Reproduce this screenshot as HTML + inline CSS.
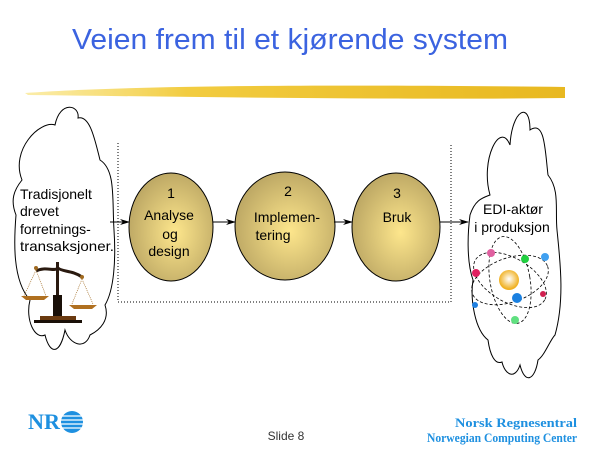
<!DOCTYPE html>
<html><head><meta charset="utf-8"><style>
html,body{margin:0;padding:0;background:#fff;}
svg{display:block;}
</style></head><body>
<svg width="600" height="450" viewBox="0 0 600 450" xmlns="http://www.w3.org/2000/svg" font-family="Liberation Sans, sans-serif">
<defs>
<radialGradient id="eg" cx="0.55" cy="0.55" r="0.6">
<stop offset="0" stop-color="#fde68c"/><stop offset="1" stop-color="#b9a462"/>
</radialGradient>
<linearGradient id="br" x1="0" x2="1">
<stop offset="0" stop-color="#f8e070" stop-opacity="0.6"/><stop offset="0.3" stop-color="#f2cc40"/><stop offset="1" stop-color="#e8b820"/>
</linearGradient>
<radialGradient id="nuc" cx="0.5" cy="0.45" r="0.5"><stop offset="0" stop-color="#fff"/><stop offset="1" stop-color="#f0b020"/></radialGradient>
<marker id="ah" markerWidth="10" markerHeight="8" refX="9" refY="4" orient="auto" markerUnits="userSpaceOnUse"><path d="M0,1 L10,4 L0,7 L3,4z" fill="#000"/></marker>
</defs>
<text x="290" y="49" text-anchor="middle" font-size="29" fill="#3b63e0" textLength="436" lengthAdjust="spacingAndGlyphs">Veien frem til et kjørende system</text>
<path d="M25,93 C120,86 300,84 565,87 L565,98 C400,100 200,97 28,95 Z" fill="url(#br)"/>
<path d="M118,143 V302 H451 V145" fill="none" stroke="#000" stroke-width="1" stroke-dasharray="1,2"/>
<path d="M22,180 C10,150 40,120 55,125 C60,100 80,105 78,118 C90,115 95,140 100,160 C116,170 112,200 114,230 C116,260 114,290 105,305 C110,320 100,330 90,335 C85,350 70,345 65,330 C60,355 50,355 45,335 C35,340 25,320 30,300 C12,280 14,240 16,215 C10,200 14,190 22,180 Z" fill="#fff" stroke="#000" stroke-width="1"/>
<path d="M490,195 C480,160 500,120 510,145 C512,110 530,100 530,130 C545,120 545,150 548,175 C560,190 555,210 557,230 C560,260 565,300 555,335 C550,340 545,355 538,360 C535,380 525,385 520,365 C515,380 505,375 502,362 C495,365 490,355 488,340 C475,330 470,300 473,280 C466,260 468,230 470,215 C475,200 482,198 490,195 Z" fill="#fff" stroke="#000" stroke-width="1"/>
<ellipse cx="171" cy="227" rx="42" ry="54" fill="url(#eg)" stroke="#000"/>
<ellipse cx="285" cy="226" rx="50" ry="54" fill="url(#eg)" stroke="#000"/>
<ellipse cx="396" cy="227" rx="44" ry="54" fill="url(#eg)" stroke="#000"/>
<g stroke="#000" stroke-width="1" marker-end="url(#ah)">
<line x1="110" y1="222" x2="129" y2="222"/>
<line x1="213" y1="222" x2="235" y2="222"/>
<line x1="334" y1="222" x2="352" y2="222"/>
<line x1="440" y1="222" x2="468" y2="222"/>
</g>
<g font-size="14" fill="#000">
<text x="20" y="199">Tradisjonelt</text>
<text x="20" y="216">drevet</text>
<text x="20" y="234">forretnings-</text>
<text x="20" y="251" textLength="94" lengthAdjust="spacingAndGlyphs">transaksjoner.</text>
</g>
<g font-size="14" fill="#000" text-anchor="middle">
<text x="171" y="198">1</text>
<text x="169" y="220">Analyse</text>
<text x="170" y="239">og</text>
<text x="169" y="256">design</text>
<text x="288" y="196">2</text>
<text x="287" y="222">Implemen-</text>
<text x="273" y="240">tering</text>
<text x="397" y="198">3</text>
<text x="397" y="222">Bruk</text>
<text x="513" y="214">EDI-aktør</text>
<text x="512" y="232">i produksjon</text>
</g>
<g>
<rect x="56" y="262" width="3" height="55" fill="#2a1a10"/>
<path d="M36,271 C45,266 55,272 58,268 C62,272 72,270 82,277" stroke="#2a1a10" stroke-width="3" fill="none"/>
<circle cx="36" cy="268" r="2" fill="#a06a20"/><circle cx="82" cy="277" r="2" fill="#a06a20"/>
<path d="M36,270 L24,296 M36,270 L46,296 M82,279 L72,304 M82,279 L93,304" stroke="#a06a20" stroke-width="0.7" stroke-dasharray="1,1"/>
<path d="M21,296 H49 L44,300 H26Z" fill="#b07020"/>
<path d="M69,305 H97 L92,309 H74Z" fill="#b07020"/>
<rect x="53" y="295" width="9" height="22" fill="#1a1008"/>
<rect x="40" y="316" width="36" height="4" fill="#6a3a10"/>
<rect x="34" y="320" width="48" height="3" fill="#1a1008"/>
</g>
<g fill="none" stroke="#000" stroke-width="0.8" stroke-dasharray="3,2">
<ellipse cx="510" cy="280" rx="40" ry="22" transform="rotate(-20 510 280)"/>
<ellipse cx="510" cy="280" rx="40" ry="22" transform="rotate(30 510 280)"/>
<ellipse cx="510" cy="280" rx="20" ry="44" transform="rotate(-10 510 280)"/>
</g>
<circle cx="509" cy="280" r="10" fill="url(#nuc)"/>
<circle cx="491" cy="253" r="4" fill="#e060a0"/>
<circle cx="525" cy="259" r="4" fill="#20d040"/>
<circle cx="545" cy="257" r="4" fill="#40a0f0"/>
<circle cx="476" cy="273" r="4" fill="#e02060"/>
<circle cx="517" cy="298" r="5" fill="#1a80e0"/>
<circle cx="543" cy="294" r="3" fill="#d02050"/>
<circle cx="475" cy="305" r="3" fill="#2080e0"/>
<circle cx="515" cy="320" r="4" fill="#60e080"/>
<text x="28" y="429" style="font-family:'Liberation Serif',serif;font-weight:bold" font-size="22" fill="#1e90e0" textLength="32" lengthAdjust="spacingAndGlyphs">NR</text>
<circle cx="72" cy="422" r="11" fill="#1e90e0"/>
<g stroke="#fff" stroke-width="1.3"><line x1="60" y1="416" x2="84" y2="416"/><line x1="60" y1="420" x2="84" y2="420"/><line x1="60" y1="424" x2="84" y2="424"/><line x1="60" y1="428" x2="84" y2="428"/></g>
<text x="286" y="440" text-anchor="middle" font-size="12" fill="#333">Slide 8</text>
<g style="font-family:'Liberation Serif',serif;font-weight:bold" font-size="13" fill="#1e90e0" text-anchor="end">
<text x="577" y="427" textLength="122" lengthAdjust="spacingAndGlyphs">Norsk Regnesentral</text>
<text x="577" y="442" textLength="150" lengthAdjust="spacingAndGlyphs">Norwegian Computing Center</text>
</g>
</svg>
</body></html>
